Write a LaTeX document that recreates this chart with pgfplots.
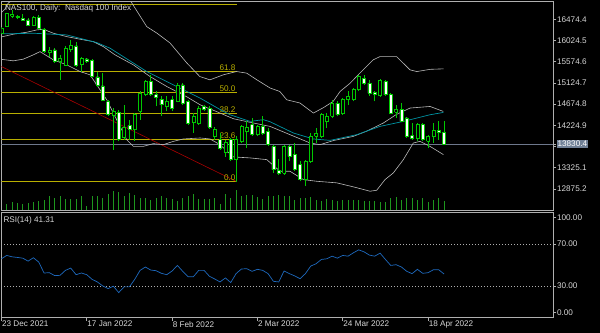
\documentclass[border=0pt]{standalone}
\usepackage{pgfplots}
\pgfplotsset{compat=1.18}
\usepackage{pgfplotstable}
\usepackage{fontspec}
\setmainfont{Liberation Sans}
\definecolor{cgreen}{RGB}{0,200,0}
\definecolor{vgreen}{RGB}{30,150,30}
\definecolor{band}{RGB}{185,185,185}
\definecolor{teal2}{RGB}{0,150,165}
\definecolor{rsiblue}{RGB}{30,105,190}
\definecolor{fib}{RGB}{185,175,0}
\definecolor{tred}{RGB}{170,0,0}
\definecolor{pline}{RGB}{110,120,140}
\definecolor{pbox}{RGB}{112,128,150}
\definecolor{txt}{RGB}{215,215,215}
\definecolor{frm}{RGB}{175,175,175}

\pgfplotstableread{
x O H L C
-1 16184 16311 16163 16290
0 16333 16608 16322 16597
1 16544 16671 16502 16587
5 16354 16544 16322 16513
8 15772 15894 15676 15814
10 15592 15719 15189 15655
11 15507 15899 15486 15856
12 15846 16036 15782 15920
14 15522 15670 15365 15645
20 14427 14597 13708 14512
22 13962 14660 13919 14173
24 14131 14491 13883 14448
25 14518 14942 14343 14908
26 14872 15189 14836 15153
30 14624 14836 14518 14730
32 14730 15119 14709 15083
35 14279 14484 14061 14412
36 14273 14624 14237 14590
39 13989 14188 13919 14146
41 13644 13919 13559 13856
43 13496 13989 13030 13919
44 13883 14237 13849 14201
45 14089 14307 13744 14173
47 14025 14237 13989 14201
52 13214 13813 13178 13777
56 13072 13496 12945 13460
57 13460 14061 13426 13989
58 13989 14167 13849 14061
59 13989 14484 13955 14448
60 14307 14484 14167 14412
61 14412 14766 14379 14696
63 14484 14802 14448 14781
64 14766 14942 14660 14836
65 14766 15014 14730 14993
66 14978 15295 14942 15259
70 14851 15204 14823 15175
73 14497 14660 14379 14554
77 13955 14273 13883 14237
79 13883 14025 13744 13989
80 13989 14273 13849 14116
}\bulltab

\pgfplotstableread{
x O H L C
2 16534 16565 16470 16523
3 16491 16587 16438 16449
4 16460 16491 16333 16354
6 16513 16565 16258 16280
7 16258 16290 15761 15793
9 15824 15860 15556 15577
13 15909 16000 15465 15507
15 15634 15649 15556 15581
16 15602 15628 15247 15263
17 15253 15359 15031 15083
18 15062 15327 14730 14755
19 14724 14766 14427 14448
21 14497 14554 13883 13919
23 14216 14343 13919 14146
27 15153 15295 14851 14872
28 14872 14942 14624 14823
29 14781 14836 14412 14660
31 14766 14836 14518 14590
33 15083 15119 14660 14696
34 14730 14766 14237 14273
37 14624 14660 14518 14554
38 14590 14624 14146 14188
40 13919 14061 13708 13744
42 13919 13955 13460 13496
46 14237 14379 14004 14025
48 14201 14412 14025 14061
49 14095 14167 13777 13813
50 13777 13813 13214 13284
51 13269 13500 13178 13214
53 13777 13813 13460 13566
54 13602 13849 13248 13284
55 13390 13460 13036 13072
62 14696 14730 14412 14448
67 15225 15295 15083 15105
68 15119 15189 14851 14908
69 14921 14942 14730 14872
71 15153 15189 14851 14872
72 14872 14908 14470 14484
74 14554 14696 14285 14307
75 14379 14400 13955 13989
76 14004 14273 13919 13955
78 14237 14273 13883 13919
81 14110 14307 13919 14074
82 14074 14307 13813 13830.4
}\beartab

\pgfplotstableread{
x y
-1.26 16587
-0.32 16692
0.3 16820
2.5 16989
10 17412
17.5 17306
22.2 16989
23.1 16883
26.25 16318
28.1 16184
30.6 15973
33.75 15549
36.2 15259
38.1 15189
40.6 15295
43.1 15365
45 15331
46.9 15189
49.4 15014
51.2 14942
52.5 14766
55 14696
57.5 14484
59.4 14600
61.2 14730
62.5 14942
64.4 15119
66.2 15331
68.7 15613
70 15683
73.1 15683
75.6 15401
76.9 15365
79.4 15412
81.9 15422
}\bbupper

\pgfplotstableread{
x y
-1.26 16093
1.24 16157
3.75 16199
5.63 16248
6.86 16263
8.74 16178
11.25 16106
13.74 16051
16.24 16000
18.11 15894
20.3 15719
23.74 15507
26.87 15259
30 15048
33.75 14830
36.25 14660
39.4 14512
42.49 14364
46.24 14273
49.37 14201
53.12 14025
56.87 13849
58.75 13813
61.24 13900
64.99 13989
67.5 14100
70.62 14273
73 14450
75.62 14590
79.37 14624
81.87 14518
}\bbmid

\pgfplotstableread{
x y
-1.26 16163
4.99 16178
11.25 16142
16.88 15979
19.37 15860
26.25 15365
31.24 15083
36.25 14802
40.62 14519
41.87 14448
45.62 14307
48.12 14343
49.37 14300
53.74 14061
57.49 13934
60.62 13904
65.62 14025
70 14201
74.37 14307
79.37 14448
81.87 14497
}\matab

\pgfplotstableread{
x y
-1.26 15628
1.24 15592
3.11 15628
4.99 15719
6.24 15788
8.74 15613
11.25 15507
13.74 15365
15.62 15295
17.49 14978
18.75 14766
20.3 14412
21.25 14201
22.5 13919
23.74 13777
25.61 13777
27.49 13835
29.36 13813
31.24 13883
33.11 13934
36.25 13955
38.12 13934
39.99 13813
42.49 13553
45.62 13532
48.75 13496
51.25 13248
53.12 13248
55.62 13072
58.12 13036
61.87 13003
64.99 12918
68.12 12825
69.37 12846
70.93 13072
72.49 13214
74.37 13496
76.24 13849
77.5 13883
79.37 13777
81.87 13602
}\bblow

\pgfplotstableread{
x v
0 19
1 25
2 22
3 20
4 22
5 25
6 29
7 32
8 42
9 37
10 42
11 35
12 34
13 35
14 44
15 12
16 42
17 42
18 37
19 49
20 57
21 54
22 44
23 52
24 47
25 37
26 37
27 32
28 37
29 42
30 37
31 35
32 29
33 37
34 42
35 49
36 35
37 35
38 35
39 37
40 20
41 49
42 37
43 62
44 44
45 47
46 45
47 39
48 35
49 42
50 42
51 45
52 42
53 42
54 32
55 37
56 37
57 39
58 32
59 27
60 34
61 32
62 29
63 32
64 30
65 30
66 30
67 27
68 27
69 29
70 25
71 25
72 37
73 39
74 32
75 37
76 37
77 30
78 37
79 25
80 32
81 37
82 29
}\voltab

\pgfplotstableread{
x r
-1 55.8
0 59.0
1 57.7
2 57.1
3 56.4
4 53.6
5 56.8
6 52.7
7 42.3
8 42.6
9 39.8
10 40.1
11 44.8
12 47.0
13 40.7
14 42.3
15 40.7
16 36.3
17 33.8
18 30.0
19 27.5
20 29.7
21 23.7
22 29.1
23 29.1
24 36.3
25 44.8
26 48.0
27 45.1
28 44.5
29 42.0
30 40.7
31 44.2
32 49.5
33 43.9
34 38.8
35 38.8
36 44.8
37 44.8
38 39.2
39 36.6
40 33.8
41 37.6
42 33.2
43 41.7
44 46.1
45 46.4
46 43.9
47 45.8
48 44.8
49 41.7
50 34.4
51 33.8
52 44.2
53 41.7
54 39.5
55 36.9
56 41.7
57 48.9
58 51.1
59 55.2
60 55.8
61 58.3
62 56.4
63 59.0
64 58.3
65 61.5
66 64.3
67 62.4
68 59.3
69 58.3
70 61.2
71 55.2
72 49.5
73 50.2
74 48.0
75 43.9
76 41.7
77 45.8
78 42.0
79 42.6
80 45.4
81 45.4
82 41.31
}\rsitab

\begin{document}
\begin{tikzpicture}[font=\fontsize{8.2}{9.5}\selectfont]
\fill[black] (0,0) rectangle (600bp,-333bp);
\useasboundingbox (0,0) rectangle (600bp,-333bp);

\pgfplotsset{
  mt/.style={
    at={(1.4bp,-1.7bp)}, anchor=north west,
    scale only axis, width=552bp, height=208.8bp,
    xmin=-1, xmax=102.5,
  }
}

% volume overlay
\begin{axis}[mt, ymin=0, ymax=626, hide axis]
\addplot[ycomb, vgreen, line width=0.9pt, mark=none] table[x=x,y=v] {\voltab};
\end{axis}

% main price axis
\begin{axis}[mt, ymin=12416, ymax=16847,
  scaled y ticks=false, scaled x ticks=false,
  axis line style={frm, line width=0.8pt},
  xtick=\empty,
  ytick={12875.2,13325.1,13775.0,14224.9,14674.8,15124.7,15574.6,16024.5,16474.4},
  yticklabels={12875.2,13325.1,{},14224.9,14674.8,15124.7,15574.6,16024.5,16474.4},
  ytick pos=right, yticklabel pos=right,
  tick align=outside, major tick length=3bp,
  tick style={frm, line width=0.6pt},
  yticklabel style={text=txt, anchor=west, inner sep=0.5pt},
  extra y ticks={13830.4}, extra y tick labels={13830.4},
  extra y tick style={yticklabel style={fill=pbox, text=white, inner sep=1pt}},
]
% fibonacci
\addplot[fib, line width=0.7pt] coordinates {(-1,16798) (43.1,16798)};
\addplot[fib, line width=0.7pt] coordinates {(-1,15359) (43.1,15359)};
\addplot[fib, line width=0.7pt] coordinates {(-1,14914) (43.1,14914)};
\addplot[fib, line width=0.7pt] coordinates {(-1,14469) (43.1,14469)};
\addplot[fib, line width=0.7pt] coordinates {(-1,13919) (43.1,13919)};
\addplot[fib, line width=0.7pt] coordinates {(-1,13030) (43.1,13030)};
\addplot[tred, line width=0.6pt] coordinates {(-1,15471) (43.1,13030)};
\node[anchor=south east, text=fib, inner sep=1pt] at (axis cs:43.1,15359) {61.8};
\node[anchor=south east, text=fib, inner sep=1pt] at (axis cs:43.1,14914) {50.0};
\node[anchor=south east, text=fib, inner sep=1pt] at (axis cs:43.1,14469) {38.2};
\node[anchor=south east, text=fib, inner sep=1pt] at (axis cs:43.1,13919) {23.6};
\node[anchor=south east, text=fib, inner sep=1pt] at (axis cs:43.1,13030) {0.0};
% price line
\addplot[pline, line width=0.7pt] coordinates {(-1,13830.4) (102.5,13830.4)};
% bands
\addplot[band, line width=0.6pt] table[x=x,y=y] {\bbupper};
\addplot[band, line width=0.6pt] table[x=x,y=y] {\bbmid};
\addplot[band, line width=0.6pt] table[x=x,y=y] {\bblow};
\addplot[teal2, line width=0.7pt] table[x=x,y=y] {\matab};
% candles
\pgfplotstablegetrowsof{\bulltab}
\pgfmathtruncatemacro\nbull{\pgfplotsretval-1}
\pgfplotsforeachungrouped \kr in {0,...,\nbull}{%
  \pgfplotstablegetelem{\kr}{x}\of\bulltab\let\kx\pgfplotsretval
  \pgfplotstablegetelem{\kr}{O}\of\bulltab\let\ko\pgfplotsretval
  \pgfplotstablegetelem{\kr}{H}\of\bulltab\let\kh\pgfplotsretval
  \pgfplotstablegetelem{\kr}{L}\of\bulltab\let\kl\pgfplotsretval
  \pgfplotstablegetelem{\kr}{C}\of\bulltab\let\kc\pgfplotsretval
  \pgfmathsetmacro\kxl{\kx-0.28}\pgfmathsetmacro\kxr{\kx+0.28}%
  \edef\ktmp{\noexpand\addplot[cgreen, line width=0.6pt, forget plot] coordinates {(\kx,\kl) (\kx,\kh)};
  \noexpand\addplot[draw=cgreen, fill=black, line width=0.6pt, forget plot] coordinates {(\kxl,\ko) (\kxr,\ko) (\kxr,\kc) (\kxl,\kc) (\kxl,\ko)};}%
  \ktmp
}
\pgfplotstablegetrowsof{\beartab}
\pgfmathtruncatemacro\nbear{\pgfplotsretval-1}
\pgfplotsforeachungrouped \kr in {0,...,\nbear}{%
  \pgfplotstablegetelem{\kr}{x}\of\beartab\let\kx\pgfplotsretval
  \pgfplotstablegetelem{\kr}{O}\of\beartab\let\ko\pgfplotsretval
  \pgfplotstablegetelem{\kr}{H}\of\beartab\let\kh\pgfplotsretval
  \pgfplotstablegetelem{\kr}{L}\of\beartab\let\kl\pgfplotsretval
  \pgfplotstablegetelem{\kr}{C}\of\beartab\let\kc\pgfplotsretval
  \pgfmathsetmacro\kxl{\kx-0.28}\pgfmathsetmacro\kxr{\kx+0.28}%
  \edef\ktmp{\noexpand\addplot[cgreen, line width=0.6pt, forget plot] coordinates {(\kx,\kl) (\kx,\kh)};
  \noexpand\addplot[draw=cgreen, fill=white, line width=0.6pt, forget plot] coordinates {(\kxl,\ko) (\kxr,\ko) (\kxr,\kc) (\kxl,\kc) (\kxl,\ko)};}%
  \ktmp
}
\node[anchor=north west, text=txt, inner sep=0pt] at ([xshift=3.5bp,yshift=-2.5bp]rel axis cs:0,1) {NAS100, Daily:\ \ Nasdaq 100 Index};
\end{axis}

% RSI axis
\begin{axis}[
  at={(1.4bp,-212.3bp)}, anchor=north west,
  scale only axis, width=552bp, height=105.2bp,
  xmin=-1, xmax=102.5, ymin=0, ymax=100,
  axis line style={frm, line width=0.8pt},
  xtick={-1,15,31,47,63,79},
  xticklabels={23 Dec 2021,17 Jan 2022,8 Feb 2022,2 Mar 2022,24 Mar 2022,18 Apr 2022},
  xtick pos=bottom,
  ytick={4.5,30,70,95.1},
  yticklabels={0.00,30.00,70.00,100.00},
  ytick pos=right, yticklabel pos=right,
  tick align=outside, major tick length=3bp,
  tick style={frm, line width=0.6pt},
  yticklabel style={text=txt, anchor=west, inner sep=0.5pt},
  xticklabel style={text=txt, anchor=north west, inner sep=0.5pt},
]
\addplot[frm, line width=0.5pt, dash pattern=on 1bp off 2bp] coordinates {(-1,70) (102.5,70)};
\addplot[frm, line width=0.5pt, dash pattern=on 1bp off 2bp] coordinates {(-1,30) (102.5,30)};
\addplot[rsiblue, line width=0.7pt] table[x=x,y=r] {\rsitab};
\node[anchor=north west, text=txt, inner sep=0pt] at ([xshift=2bp,yshift=-4bp]rel axis cs:0,1) {RSI(14) 41.31};
\end{axis}
\end{tikzpicture}
\end{document}
